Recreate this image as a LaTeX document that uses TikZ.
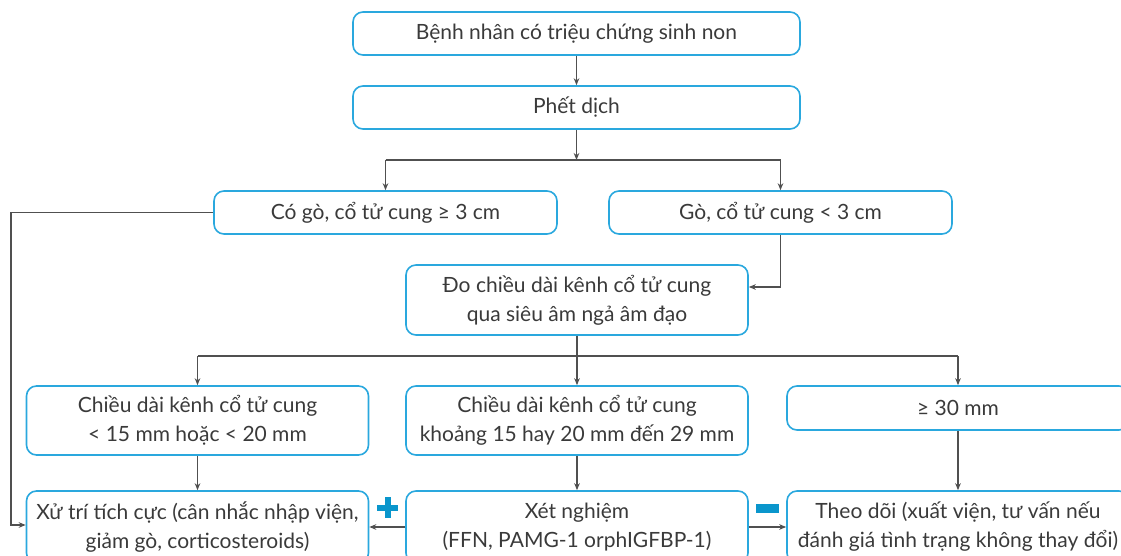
\documentclass[tikz,border=0pt]{standalone}
\usepackage{fontspec}
\setmainfont{Lato}
\usepackage{xcolor}
\usepackage{tikz}
\usetikzlibrary{arrows.meta}
\definecolor{boxblue}{HTML}{2AA8DE}
\definecolor{signblue}{HTML}{0A96CC}
\definecolor{linegray}{HTML}{505050}
\definecolor{textgray}{HTML}{3A3A3A}

\begin{document}
\begin{tikzpicture}[x=0.5pt,y=-0.5pt]
	\tikzstyle{box}=[draw=boxblue,line width=0.8pt,rounded corners=5pt,text=textgray,align=center,font=\fontsize{10.5}{14.5}\selectfont,inner sep=2pt]
	\tikzstyle{wide}=[box,minimum width=223.5pt,minimum height=21.5pt]
	\tikzstyle{half}=[box,minimum width=171.5pt,minimum height=21.5pt]
	\tikzstyle{twoline}=[box,minimum width=171pt,minimum height=35pt]
	\tikzstyle{line}=[linegray,line width=0.6pt]
	\tikzstyle{link}=[line,-{Stealth[length=3.5pt,width=2.8pt]}]
	\useasboundingbox (0,0) rectangle (1121,556);
	\clip (0,0) rectangle (1121,556);
	\node[wide](start) at (576.5,33.5) {Bệnh nhân có triệu chứng sinh non};
	\node[wide](swab) at (576.5,107.5) {Phết dịch};
	\node[half](contr) at (385.5,212.5) {Có gò, cổ tử cung ≥ 3 cm};
	\node[half](nocontr) at (780.5,212.5) {Gò, cổ tử cung < 3 cm};
	\node[twoline](tvus) at (577,300) {Đo chiều dài kênh cổ tử cung\\qua siêu âm ngả âm đạo};
	\node[twoline,minimum height=34.5pt](short) at (197.5,420.5) {Chiều dài kênh cổ tử cung\\< 15 mm hoặc < 20 mm};
	\node[twoline,minimum height=34.5pt](medium) at (577,420.5) {Chiều dài kênh cổ tử cung\\khoảng 15 hay 20 mm đến 29 mm};
	\node[twoline,minimum height=22pt](long) at (958,408) {≥ 30 mm};
	\node[twoline,minimum height=36pt](active) at (197.5,527) {Xử trí tích cực (cân nhắc nhập viện,\\giảm gò, corticosteroids)};
	\node[twoline,minimum height=36pt](test) at (577,527) {Xét nghiệm\\(FFN, PAMG-1 orphIGFBP-1)};
	\node[twoline,minimum height=36pt](watch) at (958,527) {Theo dõi (xuất viện, tư vấn nếu\\đánh giá tình trạng không thay đổi)};
	\coordinate(split1) at (576.5,160);
	\coordinate(split2) at (577,356);
	\coordinate(bend) at (11,212.5);
	% connectors
	\draw[link](start) -- (swab);
	\draw[link](swab) -- (split1);
	\draw[line](contr.north |- split1) -- (nocontr.north |- split1);
	\draw[link](contr.north |- split1) -- (contr);
	\draw[link](nocontr.north |- split1) -- (nocontr);
	\draw[link](nocontr) |- ([yshift=6.5pt]tvus.east);
	\draw[link](tvus) -- (medium);
	\draw[line](short.north |- split2) -- (long.north |- split2);
	\draw[link](short.north |- split2) -- (short);
	\draw[link](long.north |- split2) -- (long);
	\draw[link](short) -- (active);
	\draw[link](medium) -- (test);
	\draw[link](long) -- (watch);
	\draw[link](contr.west) -- (bend) |- ([yshift=1pt]active.west);
	\draw[link](test) -- (active);
	\draw[link](test) -- (watch);
	% plus and minus
	\fill[signblue](377,504.5) rectangle (398,510.5);
	\fill[signblue](384.5,497) rectangle (390.5,518);
	\fill[signblue](756,504) rectangle (779,513);
\end{tikzpicture}
\end{document}
